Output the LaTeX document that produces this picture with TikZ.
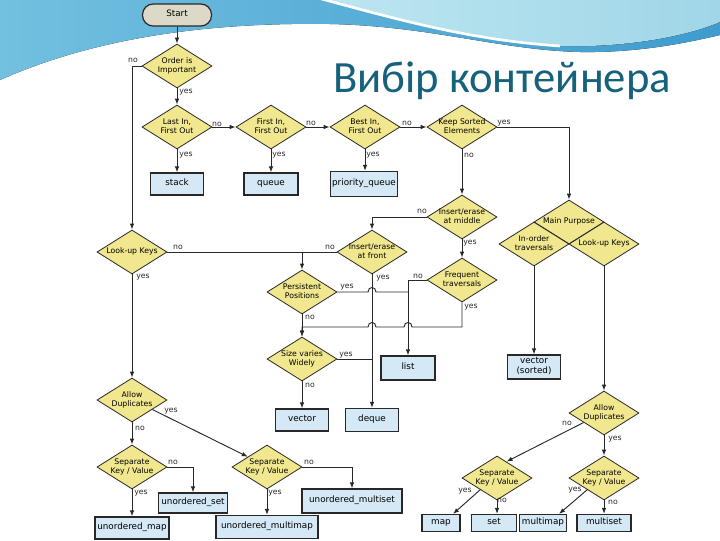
\documentclass[tikz,border=0pt]{standalone}
\usepackage{fontspec}
\setmainfont{DejaVu Sans}
\newfontfamily\titlefont{Carlito}
\usetikzlibrary{shapes.geometric,arrows.meta,calc}
\definecolor{dy}{RGB}{240,231,142}
\definecolor{bb}{RGB}{212,232,246}
\definecolor{sg}{RGB}{221,217,200}
\definecolor{ln}{RGB}{40,40,40}
\definecolor{tt}{RGB}{22,98,124}
\definecolor{wa}{RGB}{115,192,224}
\definecolor{wb}{RGB}{62,156,206}
\definecolor{wc}{RGB}{188,230,240}
\definecolor{wd}{RGB}{160,214,232}
\newcommand{\dfont}{\fontsize{5.8pt}{7pt}\selectfont}
\newcommand{\bfont}{\fontsize{6.6pt}{7.4pt}\selectfont}
\newcommand{\dt}[1]{\makebox[0pt]{\begin{tabular}{@{}c@{}}#1\end{tabular}}}
\begin{document}
\begin{tikzpicture}[x=0.75pt,y=-0.75pt,
  dia/.style={diamond, draw=ln, line width=0.6pt, fill=dy, minimum width=52.5pt, minimum height=33pt, inner sep=0pt, font=\dfont},
  box/.style={rectangle, draw=ln, line width=0.9pt, fill=bb, inner sep=0pt, font=\bfont, align=center, execute at begin node=\strut},
  lbl/.style={font=\dfont, inner sep=0pt, text=ln},
  conn/.style={draw=ln, line width=0.7pt},
  arr/.style={conn, -{Latex[length=4.5pt,width=3.4pt]}}]
\useasboundingbox (0,0) rectangle (720,540);
\fill[white] (0,0) rectangle (720,540);
% top decoration
\fill[left color=wa, right color=wb] (0,0) -- (325,0) .. controls (400,20) and (470,40) .. (560,46) .. controls (630,48) and (690,35) .. (720,22) -- (720,35) .. controls (690,42) and (640,53) .. (580,52) .. controls (500,50) and (430,26) .. (330,24) .. controls (200,22) and (90,40) .. (0,80) -- cycle;
\fill[left color=wc, right color=wd] (325,0) -- (720,0) -- (720,22) .. controls (690,35) and (630,48) .. (560,46) .. controls (470,40) and (400,20) .. (325,0) -- cycle;
\draw[white, line width=2pt] (318,-2) .. controls (400,20) and (470,40) .. (560,46);
\node[font=\titlefont\fontsize{33.5pt}{36pt}\selectfont, text=tt, anchor=base, inner sep=0pt] (title) at (502,92) {Вибір контейнера};

% nodes
\node[draw=ln, line width=0.9pt, fill=sg, rounded corners=8pt, minimum width=51.75pt, minimum height=16.5pt, inner sep=0pt, font=\bfont] (start) at (177,15) {\strut Start};
\node[dia] (order) at (177,66) {\dt{Order is\\Important}};
\node[dia] (lifo) at (177,127) {\dt{Last In,\\First Out}};
\node[dia] (fifo) at (271,127) {\dt{First In,\\First Out}};
\node[dia] (bifo) at (365,127) {\dt{Best In,\\First Out}};
\node[dia] (sorted) at (462,127) {\dt{Keep Sorted\\Elements}};
\node[box, minimum width=39.75pt, minimum height=16.5pt] (stack) at (177,184) {stack};
\node[box, minimum width=40.5pt, minimum height=16.5pt] (queue) at (271,184) {queue};
\node[box, minimum width=50.25pt, minimum height=18.75pt] (pq) at (364,184) {priority\_queue};
\node[dia] (mid) at (462,217) {\dt{Insert/erase\\at middle}};
\node[dia] (mp) at (569,222) {\dt{Main Purpose}};
\node[dia] (inord) at (534,244) {\dt{In-order\\traversals}};
\node[dia] (lk2) at (604,244) {\dt{Look-up Keys}};
\node[dia] (lookup) at (132,252) {\dt{Look-up Keys}};
\node[dia] (front) at (372,252) {\dt{Insert/erase\\at front}};
\node[dia] (persist) at (302,292) {\dt{Persistent\\Positions}};
\node[dia] (freq) at (462,280) {\dt{Frequent\\traversals}};
\node[dia] (size) at (302,359) {\dt{Size varies\\Widely}};
\node[box, minimum width=40.5pt, minimum height=18pt] (list) at (408,368) {list};
\node[box, minimum width=39.75pt, minimum height=18pt] (vsorted) at (534,367) {vector\\(sorted)};
\node[box, minimum width=39.75pt, minimum height=16.5pt] (vector) at (302,420) {vector};
\node[box, minimum width=39.75pt, minimum height=17.25pt] (deque) at (372,420) {deque};
\node[dia] (allowL) at (132,400) {\dt{Allow\\Duplicates}};
\node[dia] (allowR) at (604,413) {\dt{Allow\\Duplicates}};
\node[dia] (sepL) at (132,467) {\dt{Separate\\Key / Value}};
\node[dia] (sepM) at (267,467) {\dt{Separate\\Key / Value}};
\node[dia] (sepR1) at (497,478) {\dt{Separate\\Key / Value}};
\node[dia] (sepR2) at (604,478) {\dt{Separate\\Key / Value}};
\node[box, minimum width=51.75pt, minimum height=15pt] (uset) at (193,503) {unordered\_set};
\node[box, minimum width=75pt, minimum height=18pt] (umset) at (352,501) {unordered\_multiset};
\node[box, minimum width=55.5pt, minimum height=16.5pt] (umap) at (132,528) {unordered\_map};
\node[box, minimum width=76.5pt, minimum height=17.25pt] (ummap) at (267,527) {unordered\_multimap};
\node[box, minimum width=28.5pt, minimum height=12.75pt] (map) at (441,523) {map};
\node[box, minimum width=33.75pt, minimum height=12.75pt] (set) at (494,523) {set};
\node[box, minimum width=35.25pt, minimum height=12.75pt] (mmap) at (543,523) {multimap};
\node[box, minimum width=40.5pt, minimum height=12.75pt] (mset) at (604,523) {multiset};

% connectors
\draw[arr] (start) -- (order);
\draw[arr] (order) -- (lifo);
\draw[arr] (order.west) -| (lookup.north);
\draw[arr] (lifo) -- (fifo);
\draw[arr] (lifo) -- (stack);
\draw[arr] (fifo) -- (bifo);
\draw[arr] (fifo) -- (queue);
\draw[arr] (bifo) -- (sorted);
\draw[arr] (bifo.south) -- (bifo.south |- pq.north);
\draw[arr] (sorted.east) -| (mp.north);
\draw[arr] (sorted) -- (mid);
\draw[arr] (mid.west) -| (front.north);
\draw[arr] (mid) -- (freq);
\draw[arr] (lookup.east) -| (persist.north);
\draw[conn] (front.west) -- (persist.north |- front.west);
\draw[arr] (front.south) -- (front.south |- deque.north);
\draw[conn] (persist.east) -- ($(front.south |- persist.east)+(-4,0)$) .. controls +(0,-6) and +(0,-6) .. ($(front.south |- persist.east)+(4,0)$) -- (list.north |- persist.east);
\draw[arr] (freq.west) -| (list.north);
\coordinate (ybend) at (462,327);
\draw[arr] (freq.south) -- (ybend) -- ($(list.north |- ybend)+(4,0)$) .. controls +(0,-6) and +(0,-6) .. ($(list.north |- ybend)+(-4,0)$) -- ($(front.south |- ybend)+(4,0)$) .. controls +(0,-6) and +(0,-6) .. ($(front.south |- ybend)+(-4,0)$) -| (size.north);
\draw[arr] (persist) -- (size);
\draw[conn] (size.east) -- (front.south |- size.east);
\draw[arr] (size) -- (vector);
\draw[arr] (lookup) -- (allowL);
\draw[arr] (allowL) -- (sepL);
\draw[arr] (allowL.-25) -- (sepM.152);
\draw[arr] (sepL.east) -| (uset.north);
\draw[arr] (sepL) -- (umap);
\draw[arr] (sepM.east) -| (umset.north);
\draw[arr] (sepM) -- (ummap);
\draw[arr] (inord) -- (vsorted);
\draw[arr] (lk2) -- (allowR);
\draw[arr] (allowR) -- (sepR2);
\draw[arr] (allowR.205) -- (sepR1.60);
\draw[arr] (sepR1.215) -- ($(map.north)+(12,0)$);
\draw[arr] (sepR1.south) -- (sepR1.south |- set.north);
\draw[arr] (sepR2.215) -- ($(mmap.north)+(16,0)$);
\draw[arr] (sepR2) -- (mset);

% labels
\node[lbl] (l1) at (133,60) {no};
\node[lbl] (l2) at (186,92) {yes};
\node[lbl] (l3) at (217,124) {no};
\node[lbl] (l4) at (186,155) {yes};
\node[lbl] (l5) at (279,155) {yes};
\node[lbl] (l6) at (311,123) {no};
\node[lbl] (l7) at (407,123) {no};
\node[lbl] (l8) at (373,155) {yes};
\node[lbl] (l9) at (504,123) {yes};
\node[lbl] (l10) at (469,155) {no};
\node[lbl] (l11) at (422,211) {no};
\node[lbl] (l12) at (470,243) {yes};
\node[lbl] (l13) at (178,247) {no};
\node[lbl] (l14) at (143,277) {yes};
\node[lbl] (l15) at (330,247) {no};
\node[lbl] (l16) at (383,278) {yes};
\node[lbl] (l17) at (347,287) {yes};
\node[lbl] (l18) at (418,276) {no};
\node[lbl] (l19) at (471,307) {yes};
\node[lbl] (l20) at (310,317) {no};
\node[lbl] (l21) at (346,355) {yes};
\node[lbl] (l22) at (310,385) {no};
\node[lbl] (l23) at (171,411) {yes};
\node[lbl] (l24) at (140,428) {no};
\node[lbl] (l25) at (173,462) {no};
\node[lbl] (l26) at (141,493) {yes};
\node[lbl] (l27) at (309,462) {no};
\node[lbl] (l28) at (275,493) {yes};
\node[lbl] (l29) at (567,423) {no};
\node[lbl] (l30) at (615,439) {yes};
\node[lbl] (l31) at (465,491) {yes};
\node[lbl] (l32) at (502,500) {no};
\node[lbl] (l33) at (575,490) {yes};
\node[lbl] (l34) at (613,502) {no};
\end{tikzpicture}
\end{document}
